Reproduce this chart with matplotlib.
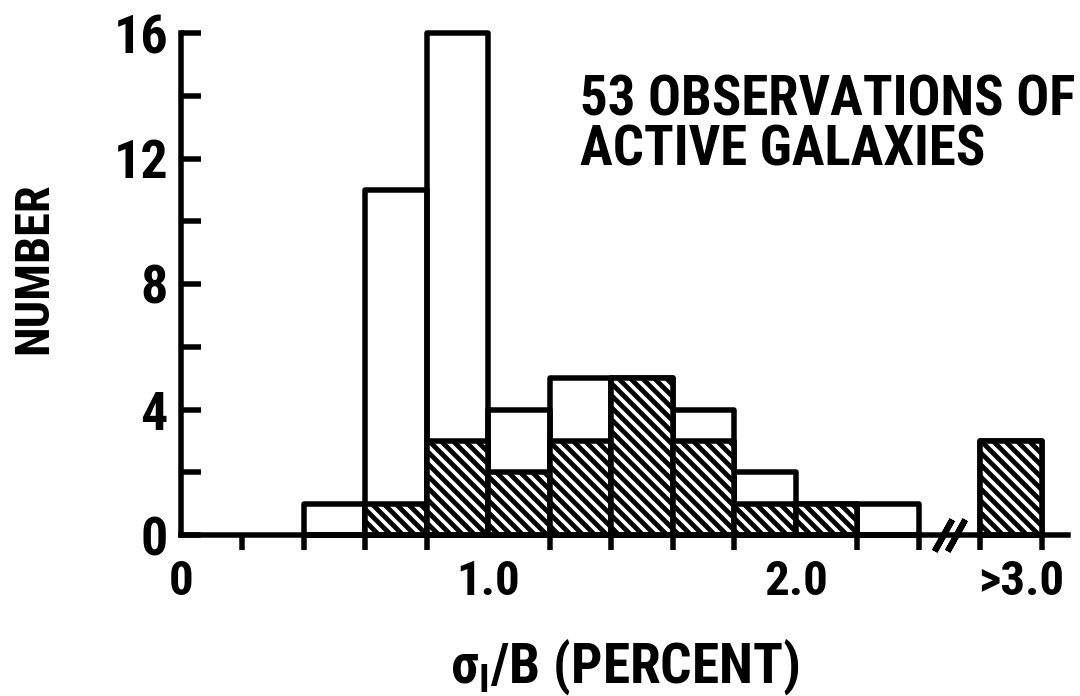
import matplotlib
matplotlib.use("Agg")
import matplotlib.pyplot as plt
from matplotlib import font_manager as fm

# ---------------- data ----------------
bin_left = [0.4, 0.6, 0.8, 1.0, 1.2, 1.4, 1.6, 1.8, 2.0, 2.2, 2.6]
total_counts = [1, 11, 16, 4, 5, 5, 4, 2, 1, 1, 3]
hatched_counts = [0, 1, 3, 2, 3, 5, 3, 1, 1, 0, 3]
bin_width = 0.2
x_tick_minor = [0.2, 0.4, 0.6, 0.8, 1.0, 1.2, 1.4, 1.6, 1.8, 2.0, 2.2, 2.4, 2.6, 2.8]
x_label_pos = [0, 1.0, 2.0, 2.733]
x_label_text = ["0", "1.0", "2.0", ">3.0"]
y_major = [0, 4, 8, 12, 16]
y_minor = [2, 6, 10, 14]
BREAK_X = 2.5
title_lines = ["53 OBSERVATIONS OF", "ACTIVE GALAXIES"]

# ---------------- font choice (prefer narrow bold faces) ----------------
entries = {(f.name, f.stretch) for f in fm.fontManager.ttflist}
candidates = [("Liberation Sans Narrow", None), ("Roboto Condensed", None),
              ("Open Sans Condensed", None), ("Noto Sans", "condensed"),
              ("Open Sans", "condensed"), ("Roboto", "condensed"),
              ("DejaVu Sans", "condensed")]
FAM, STRETCH = "DejaVu Sans", "normal"
for name, st in candidates:
    if st is None and any(n == name for n, s in entries):
        FAM, STRETCH = name, "normal"
        break
    if st is not None and (name, st) in entries:
        FAM, STRETCH = name, st
        break

plt.rcParams["font.family"] = [FAM, "DejaVu Sans"]
plt.rcParams["font.weight"] = "bold"
plt.rcParams["font.stretch"] = STRETCH
plt.rcParams["mathtext.fontset"] = "dejavusans"
plt.rcParams["hatch.linewidth"] = 4.8
plt.rcParams["hatch.color"] = "black"

W, H, DPI = 1080, 696, 72
fig = plt.figure(figsize=(W / DPI, H / DPI), dpi=DPI)
fig.patch.set_facecolor("white")

def px(x, y):
    return x / W, 1 - y / H

ax = fig.add_axes([181 / W, (H - 535) / H, 887 / W, 502 / H])
ax.set_xlim(0, 2.885)
ax.set_ylim(0, 16)

LW = 5.5
ax.bar(bin_left, total_counts, width=bin_width, align="edge", fill=False,
       edgecolor="black", linewidth=LW, clip_on=False, joinstyle="round", zorder=2)
ax.bar(bin_left, hatched_counts, width=bin_width, align="edge", facecolor="white",
       edgecolor="black", linewidth=LW, hatch="\\\\", clip_on=False,
       joinstyle="round", zorder=3)

for side in ("top", "right"):
    ax.spines[side].set_visible(False)
for side in ("left", "bottom"):
    ax.spines[side].set_linewidth(LW)
    ax.spines[side].set_zorder(4)

# y ticks
ax.set_yticks(y_major)
ax.set_yticks(y_minor, minor=True)
ax.tick_params(axis="y", which="both", direction="in", length=20, width=LW, pad=13,
               labelsize=54)
# x ticks
ax.set_xticks(x_label_pos)
ax.set_xticklabels(x_label_text)
ax.set_xticks(x_tick_minor, minor=True)
ax.tick_params(axis="x", which="major", length=0, pad=24, labelsize=49)
ax.tick_params(axis="x", which="minor", direction="out", length=15, width=LW)

# axis break marks
ax.plot([BREAK_X - 0.022, BREAK_X + 0.022], [0, 0], ls="none", marker=(2, 2, -29),
        ms=36, mew=6, color="black", clip_on=False, zorder=5)

# labels
t_y = fig.text(*px(34, 268), "NUMBER", rotation=90, ha="center", va="center",
               fontsize=50)
t_x = fig.text(*px(625, 683), "\u03c3$_\\mathregular{I}$/B (PERCENT)", ha="center",
               va="baseline", fontsize=50)
t1 = fig.text(*px(580, 115), title_lines[0], ha="left", va="baseline", fontsize=55)
t2 = fig.text(*px(580, 165), title_lines[1], ha="left", va="baseline", fontsize=55)

# fit font sizes to the widths measured on the reference
r = fig.canvas.get_renderer()
def fit(t, target, use_height=False):
    bb = t.get_window_extent(r)
    cur = bb.height if use_height else bb.width
    t.set_fontsize(t.get_fontsize() * target / cur)

fit(t_y, 172, use_height=True)
fit(t_x, 350)
fit(t1, 495)
t2.set_fontsize(t1.get_fontsize())

fig.savefig("out.png", dpi=DPI, facecolor="white")
